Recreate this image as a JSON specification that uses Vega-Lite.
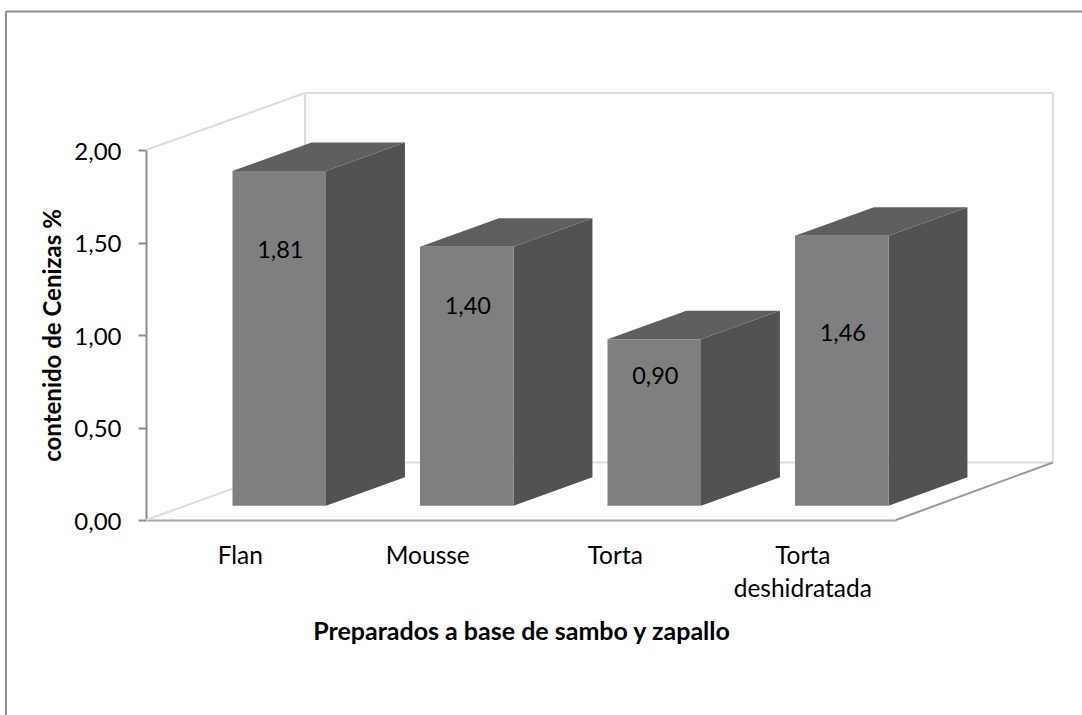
{
"$schema":"https://vega.github.io/schema/vega-lite/v6.json",
"width":750,"height":370,"autosize":"none",
"padding":{"left":146,"top":150,"right":186,"bottom":195},
"background":"white",
"config":{"view":{"stroke":null},"font":"Lato"},
"data":{"values":[
{"categoria":"Flan","valor":1.81},
{"categoria":"Mousse","valor":1.40},
{"categoria":"Torta","valor":0.90},
{"categoria":"Torta deshidratada","valor":1.46}
]},
"transform":[
{"calculate":"indexof(['Flan','Mousse','Torta','Torta deshidratada'],datum.categoria)","as":"idx"},
{"calculate":"datum.idx+0.4613","as":"x0"},
{"calculate":"datum.x0+0.4987","as":"x1"},
{"calculate":"0.077","as":"base"},
{"calculate":"datum.valor+datum.base","as":"top"}
],
"encoding":{},
"layer":[
{"data":{"values":[{"k":1}]},"mark":{"type":"rule","stroke":"#8c8c8c","strokeWidth":2},
 "encoding":{"x":{"datum":-0.747,"type":"quantitative","scale":{"domain":[0,4],"nice":false,"zero":false},"axis":{"values":[0.5,1.5,2.5,3.5],"ticks":false,"grid":false,"domainColor":"#a6a6a6","domainWidth":2,"labelExpr":"['Flan','Mousse','Torta',['Torta','deshidratada']][floor(datum.value)]","labelFontSize":24.5,"labelColor":"#000000","labelPadding":36,"labelLineHeight":33,"labelBaseline":"middle","title":"Preparados a base de sambo y zapallo","titleFontSize":25,"titleFontWeight":"bold","titleColor":"#000000","titlePadding":19}},
 "y":{"datum":2.748,"type":"quantitative","scale":{"domain":[0,2],"nice":false,"zero":false},"axis":{"values":[0,0.5,1,1.5,2],"grid":false,"tickSize":8,"tickColor":"#8c8c8c","tickWidth":2,"domainColor":"#8c8c8c","domainWidth":2,"labelExpr":"replace(format(datum.value,'.2f'),'.',',')","labelFontSize":24,"labelColor":"#000000","labelPadding":17,"labelOffset":2,"title":"contenido de Cenizas %","titleFontSize":24,"titleFontWeight":"bold","titleColor":"#000000","titlePadding":8}},
 "x2":{"datum":5.2},"y2":{"datum":2.748}}},
{"data":{"values":[{"k":1}]},"mark":{"type":"rule","stroke":"#8c8c8c","strokeWidth":2},
 "encoding":{"x":{"datum":-0.747,"type":"quantitative"},"y":{"datum":2.748,"type":"quantitative"},"x2":{"datum":-0.747},"y2":{"datum":-1.2}}},
{"data":{"values":[{"k":1}]},"mark":{"type":"rule","stroke":"#dcdcdc","strokeWidth":2},
 "encoding":{"x":{"datum":0.848,"type":"quantitative"},"y":{"datum":2.308,"type":"quantitative"},"x2":{"datum":4.837},"y2":{"datum":2.308}}},
{"data":{"values":[{"k":1}]},"mark":{"type":"rule","stroke":"#dcdcdc","strokeWidth":2},
 "encoding":{"x":{"datum":4.837,"type":"quantitative"},"y":{"datum":2.308,"type":"quantitative"},"x2":{"datum":4.837},"y2":{"datum":0.311}}},
{"data":{"values":[{"k":1}]},"mark":{"type":"rule","stroke":"#dcdcdc","strokeWidth":2},
 "encoding":{"x":{"datum":0.848,"type":"quantitative"},"y":{"datum":2.308,"type":"quantitative"},"x2":{"datum":0.848},"y2":{"datum":0.311}}},
{"data":{"values":[{"k":1}]},"mark":{"type":"rule","stroke":"#dcdcdc","strokeWidth":2},
 "encoding":{"x":{"datum":0.848,"type":"quantitative"},"y":{"datum":0.311,"type":"quantitative"},"x2":{"datum":4.837},"y2":{"datum":0.311}}},
{"data":{"values":[{"k":1}]},"mark":{"type":"rule","stroke":"#dcdcdc","strokeWidth":2},
 "encoding":{"x":{"datum":0,"type":"quantitative"},"y":{"datum":2,"type":"quantitative"},"x2":{"datum":0.848},"y2":{"datum":2.308}}},
{"data":{"values":[{"k":1}]},"mark":{"type":"rule","stroke":"#dcdcdc","strokeWidth":2},
 "encoding":{"x":{"datum":0,"type":"quantitative"},"y":{"datum":0,"type":"quantitative"},"x2":{"datum":0.848},"y2":{"datum":0.311}}},
{"data":{"values":[{"k":1}]},"mark":{"type":"rule","stroke":"#999999","strokeWidth":2},
 "encoding":{"x":{"datum":4,"type":"quantitative"},"y":{"datum":0,"type":"quantitative"},"x2":{"datum":4.837},"y2":{"datum":0.311}}},
{"mark":{"type":"area","orient":"vertical","fill":"#525252"},
 "transform":[{"calculate":"[0,1]","as":"t"},{"flatten":["t"]},
  {"calculate":"datum.x1+datum.t*0.421","as":"px"},
  {"calculate":"datum.top+datum.t*0.154","as":"yt"},
  {"calculate":"datum.base+datum.t*0.154","as":"yb"}],
 "encoding":{"x":{"field":"px","type":"quantitative"},"y":{"field":"yt","type":"quantitative"},"y2":{"field":"yb"},"detail":{"field":"categoria"}}},
{"mark":{"type":"area","orient":"horizontal","fill":"#5f5f5f"},
 "transform":[{"calculate":"[0,1]","as":"t"},{"flatten":["t"]},
  {"calculate":"datum.top+datum.t*0.154","as":"py"},
  {"calculate":"datum.x0+datum.t*0.421","as":"xa"},
  {"calculate":"datum.x1+datum.t*0.421","as":"xb"}],
 "encoding":{"y":{"field":"py","type":"quantitative"},"x":{"field":"xa","type":"quantitative"},"x2":{"field":"xb"},"detail":{"field":"categoria"}}},
{"mark":{"type":"rect","fill":"#7f7f7f"},
 "encoding":{"x":{"field":"x0","type":"quantitative"},"x2":{"field":"x1"},"y":{"field":"base","type":"quantitative"},"y2":{"field":"top"}}},
{"mark":{"type":"text","fontSize":23.5,"color":"#000000","baseline":"middle","align":"center"},
 "transform":[{"calculate":"{'Flan':1.454,'Mousse':1.151,'Torta':0.773,'Torta deshidratada':1.005}[datum.categoria]","as":"ly"},
  {"calculate":"datum.x0+0.255","as":"lx"},
  {"calculate":"replace(format(datum.valor,'.2f'),'.',',')","as":"etiqueta"}],
 "encoding":{"x":{"field":"lx","type":"quantitative"},"y":{"field":"ly","type":"quantitative"},"text":{"field":"etiqueta"}}}
]
}
